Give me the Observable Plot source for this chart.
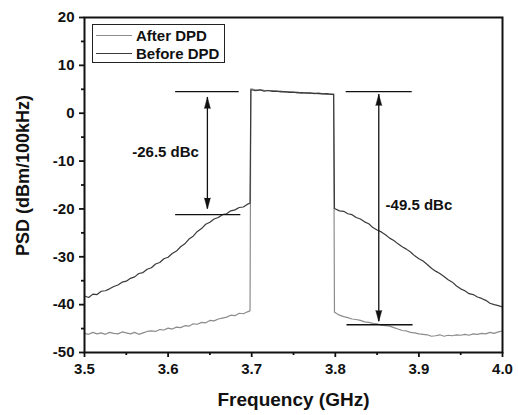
<!DOCTYPE html>
<html>
<head>
<meta charset="utf-8">
<script src="https://cdn.jsdelivr.net/npm/d3@7"></script>
<script src="https://cdn.jsdelivr.net/npm/@observablehq/plot@0.6"></script>
<style>
  body { margin: 0; background: #fff; font-family: "Liberation Sans", Arial, sans-serif; }
  #wrap { position: relative; width: 518px; height: 415px; }
  #legend { position: absolute; left: 92px; top: 24px; width: 131px; height: 37px; border: 1px solid #222; background: #fff; }
  .row { position: absolute; left: 0; height: 18px; display: flex; align-items: center; font-weight: bold; font-size: 15px; color: #111; white-space: nowrap; }
  .sw { width: 36px; height: 0; border-top: 1.4px solid; margin-left: 3px; margin-right: 4px; }
  #chart svg g[aria-label="x-axis tick label"] text,
  #chart svg g[aria-label="y-axis tick label"] text { font-size: 15px !important; font-weight: bold !important; fill: #111; }
  #chart svg g[aria-label="x-axis tick label"],
  #chart svg g[aria-label="y-axis tick label"] { font-size: 15px !important; font-weight: bold !important; }
</style>
</head>
<body>
<div id="wrap">
  <div id="chart"></div>
  <div id="legend">
    <div class="row" style="top:1px"><span class="sw" style="border-color:#8c8c8c"></span>After DPD</div>
    <div class="row" style="top:19px"><span class="sw" style="border-color:#3a3a3a"></span>Before DPD</div>
  </div>
</div>
<script>
// Frequency grid (GHz)
const freq = [
  3.500,3.505,3.510,3.515,3.520,3.525,3.530,3.535,3.540,3.545,3.550,3.555,3.560,3.565,3.570,3.575,3.580,3.585,3.590,3.595,
  3.600,3.605,3.610,3.615,3.620,3.625,3.630,3.635,3.640,3.645,3.650,3.655,3.660,3.665,3.670,3.675,3.680,3.685,3.690,3.695,3.698,
  3.699,3.705,3.710,3.715,3.720,3.725,3.730,3.735,3.740,3.745,3.750,3.755,3.760,3.765,3.770,3.775,3.780,3.785,3.790,3.795,3.798,
  3.799,3.805,3.810,3.815,3.820,3.825,3.830,3.835,3.840,3.845,3.850,3.855,3.860,3.865,3.870,3.875,3.880,3.885,3.890,3.895,
  3.900,3.905,3.910,3.915,3.920,3.925,3.930,3.935,3.940,3.945,3.950,3.955,3.960,3.965,3.970,3.975,3.980,3.985,3.990,3.995,4.000
];
// PSD before DPD (dBm/100kHz)
const beforeDPD = [
  -38.2,-38.5,-37.8,-37.9,-37.2,-37.1,-36.7,-36.2,-35.9,-35.3,-35.1,-34.5,-34.2,-33.5,-33.3,-32.6,-32.3,-31.5,-31.2,-30.4,
  -30.1,-29.3,-28.8,-27.9,-27.3,-26.3,-25.7,-24.7,-24.1,-23.2,-22.8,-22.1,-21.8,-21.2,-21.0,-20.4,-20.2,-19.7,-19.6,-19.0,-18.8,
  4.9,4.7,4.85,4.6,4.75,4.55,4.6,4.45,4.5,4.35,4.4,4.25,4.3,4.2,4.25,4.1,4.2,4.05,4.1,3.95,4.0,
  -19.9,-20.4,-20.5,-21.0,-21.2,-21.8,-22.1,-22.7,-23.1,-23.9,-24.4,-24.8,-25.4,-26.1,-26.6,-27.3,-27.9,-28.4,-29.0,-29.8,
  -30.4,-30.9,-31.6,-32.4,-33.0,-33.5,-34.1,-34.8,-35.3,-36.1,-36.7,-37.1,-37.7,-37.9,-38.4,-38.7,-39.1,-39.7,-40.0,-40.2,-40.5
];
// PSD after DPD (dBm/100kHz)
const afterDPD = [
  -46.0,-46.2,-45.8,-46.1,-45.9,-46.2,-45.8,-46.0,-46.1,-45.7,-45.9,-46.1,-45.8,-46.2,-45.9,-45.6,-45.5,-45.6,-45.2,-45.3,
  -44.9,-45.1,-44.7,-44.8,-44.4,-44.5,-44.0,-44.1,-43.7,-43.8,-43.3,-43.4,-43.0,-42.8,-42.6,-42.2,-42.3,-41.8,-41.9,-41.5,-41.3,
  5.1,4.9,4.95,4.8,4.7,4.75,4.55,4.6,4.45,4.5,4.35,4.4,4.2,4.3,4.15,4.2,4.05,4.1,3.95,4.0,3.9,
  -41.6,-42.2,-42.5,-42.7,-43.0,-43.1,-43.3,-43.6,-43.7,-43.9,-44.0,-44.3,-44.4,-44.5,-44.8,-45.1,-45.4,-45.5,-45.8,-45.9,
  -46.1,-46.2,-46.3,-46.6,-46.5,-46.3,-46.6,-46.4,-46.5,-46.3,-46.4,-46.2,-46.4,-46.1,-46.2,-46.0,-46.1,-45.8,-46.0,-45.7,-45.5
];

const xTicks = [3.5, 3.6, 3.7, 3.8, 3.9, 4.0];
const xMinorTicks = [3.55, 3.65, 3.75, 3.85, 3.95];
const yTicks = [-50, -40, -30, -20, -10, 0, 10, 20];
const yMinorTicks = [-45, -35, -25, -15, -5, 5, 15];

// Annotation values (dB levels and frequency spans)
const refLineY  = [4.5, -21.2, 4.5, -44.2];
const refLineX1 = [3.609, 3.609, 3.813, 3.814];
const refLineX2 = [3.685, 3.687, 3.892, 3.893];
const arrowX    = [3.647, 3.852];
const arrowTop  = [3.3, 3.9];
const arrowBot  = [-20.0, -43.5];
const labelText = ["-26.5 dBc", "-49.5 dBc"];
const labelX    = [3.597, 3.9];
const labelY    = [-8.1, -19.3];

const series = [
  ...freq.map((f, i) => ({f, v: afterDPD[i], s: "After DPD"})),
  ...freq.map((f, i) => ({f, v: beforeDPD[i], s: "Before DPD"}))
];
const refLines = refLineY.map((y, i) => ({y, x1: refLineX1[i], x2: refLineX2[i]}));
const arrows = arrowX.map((x, i) => ({x, top: arrowTop[i], bot: arrowBot[i]}));
const heads = arrows.flatMap(a => [{x: a.x, y: a.top, r: 0}, {x: a.x, y: a.bot, r: 180}]);
const labels = labelText.map((t, i) => ({t, x: labelX[i], y: labelY[i]}));

const bold = {fontWeight: "bold"};

const chart = Plot.plot({
  width: 518,
  height: 415,
  marginLeft: 84,
  marginRight: 16,
  marginTop: 17,
  marginBottom: 63,
  style: {fontFamily: "'Liberation Sans', Arial, sans-serif", color: "#111", background: "#fff"},
  x: {domain: [3.5, 4.0]},
  y: {domain: [-50, 20]},
  marks: [
    Plot.line(series.filter(d => d.s === "After DPD"), {x: "f", y: "v", stroke: "#8c8c8c", strokeWidth: 1.2}),
    Plot.line(series.filter(d => d.s === "Before DPD"), {x: "f", y: "v", stroke: "#3a3a3a", strokeWidth: 1.2}),
    Plot.ruleY(refLines, {y: "y", x1: "x1", x2: "x2", stroke: "#111", strokeWidth: 1.3}),
    Plot.ruleX(arrows, {x: "x", y1: "top", y2: "bot", stroke: "#111", strokeWidth: 1.3}),
    Plot.vector(heads, {x: "x", y: "y", rotate: "r", shape: "spike", anchor: "end", length: 11, r: 3, fill: "#111", stroke: "#111", strokeWidth: 0.5}),
    Plot.text(labels, {x: "x", y: "y", text: "t", fontSize: 15, ...bold, fill: "#111", lineAnchor: "middle"}),
    Plot.frame({stroke: "#111", strokeWidth: 2}),
    Plot.axisX(xTicks, {tickSize: 5, tickPadding: 6, strokeWidth: 1.8, fontSize: 15, ...bold, tickFormat: d => d.toFixed(1), label: null}),
    Plot.axisX(xMinorTicks, {tickSize: 3, strokeWidth: 1.8, tickFormat: () => "", label: null}),
    Plot.axisY(yTicks, {tickSize: 5, tickPadding: 5, strokeWidth: 1.8, fontSize: 15, ...bold, tickFormat: d => String(d), label: null}),
    Plot.axisY(yMinorTicks, {tickSize: 3, strokeWidth: 1.8, tickFormat: () => "", label: null}),
    Plot.text(["Frequency (GHz)"], {frameAnchor: "bottom", text: d => d, dy: 47, fontSize: 19, ...bold, textAnchor: "middle", lineAnchor: "middle", fill: "#111"}),
    Plot.text(["PSD (dBm/100kHz)"], {frameAnchor: "left", text: d => d, rotate: -90, dx: -61, dy: -9.5, fontSize: 18, ...bold, textAnchor: "middle", lineAnchor: "middle", fill: "#111"})
  ]
});
document.getElementById("chart").appendChild(chart);
</script>
</body>
</html>
